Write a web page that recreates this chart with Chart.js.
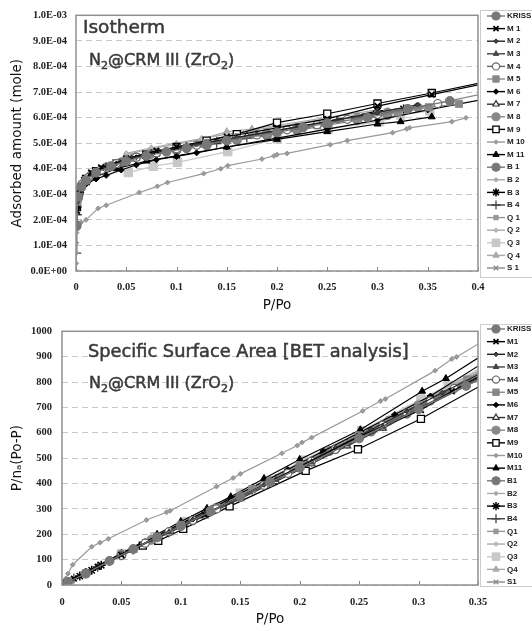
<!DOCTYPE html>
<html>
<head>
<meta charset="utf-8">
<script src="https://cdn.jsdelivr.net/npm/chart.js@4/dist/chart.umd.min.js"></script>
<style>
body { margin: 0; background: #fff; }
.grafico { position: absolute; left: 0; }
</style>
</head>
<body>
<div class="grafico" style="top:0"><canvas id="GraficoIsoterma" width="532" height="315"></canvas></div>
<div class="grafico" style="top:315px"><canvas id="GraficoBet" width="532" height="316"></canvas></div>
<script>
// nomes das series (legendas)
var nomesIsoterma = ['KRISS', 'M 1', 'M 2', 'M 3', 'M 4', 'M 5', 'M 6', 'M 7', 'M 8', 'M 9', 'M 10', 'M 11', 'B 1', 'B 2', 'B 3', 'B 4', 'Q 1', 'Q 2', 'Q 3', 'Q 4', 'S 1'];
var nomesBet = ['KRISS', 'M1', 'M2', 'M3', 'M4', 'M5', 'M6', 'M7', 'M8', 'M9', 'M10', 'M11', 'B1', 'B2', 'B3', 'B4', 'Q1', 'Q2', 'Q3', 'Q4', 'S1'];

// isoterma: [P/Po, quantidade adsorvida (mole)]
var isoKRISS = [[.0005,1.8e-4],[.002,2.9e-4],[.005,3.3e-4],[.01,3.55e-4],[.02,3.85e-4],[.035,4.1e-4],[.05,4.3e-4],[.07,4.5e-4],[.09,4.66e-4],[.11,4.8e-4],[.13,4.95e-4],[.15,5.1e-4],[.2,5.42e-4],[.226,5.62e-4],[.25,5.78e-4],[.29,6.0e-4],[.33,6.33e-4],[.372,6.65e-4]];
var isoM1 = [[.001,2.35e-4],[.003,3.0e-4],[.008,3.55e-4],[.015,3.85e-4],[.025,4.05e-4],[.035,4.15e-4],[.05,4.4e-4],[.08,4.7e-4],[.1,4.85e-4],[.15,5.25e-4],[.2,5.6e-4],[.25,5.95e-4],[.3,6.45e-4],[.354,6.9e-4],[.45,7.7e-4]];
var isoM2 = [[.001,2.7e-4],[.004,3.2e-4],[.01,3.6e-4],[.02,3.9e-4],[.04,4.2e-4],[.06,4.45e-4],[.09,4.72e-4],[.12,4.95e-4],[.16,5.22e-4],[.2,5.5e-4],[.25,5.85e-4],[.3,6.2e-4],[.34,6.5e-4]];
var isoM3 = [[.001,2.8e-4],[.003,3.15e-4],[.008,3.5e-4],[.015,3.8e-4],[.03,4.1e-4],[.05,4.35e-4],[.075,4.62e-4],[.1,4.82e-4],[.14,5.1e-4],[.18,5.35e-4],[.22,5.62e-4],[.26,5.9e-4],[.3,6.18e-4]];
var isoM4 = [[.002,3.0e-4],[.006,3.4e-4],[.012,3.65e-4],[.025,3.95e-4],[.04,4.2e-4],[.06,4.45e-4],[.08,4.62e-4],[.1,4.78e-4],[.12,4.92e-4],[.15,5.12e-4],[.18,5.32e-4],[.21,5.52e-4],[.24,5.72e-4],[.27,5.93e-4],[.3,6.13e-4],[.33,6.35e-4],[.36,6.55e-4]];
var isoM5 = [[.001,2.7e-4],[.005,3.3e-4],[.01,3.55e-4],[.02,3.85e-4],[.04,4.2e-4],[.06,4.45e-4],[.08,4.62e-4],[.1,4.8e-4],[.13,5.0e-4],[.16,5.2e-4],[.2,5.45e-4],[.24,5.7e-4],[.28,5.95e-4],[.32,6.2e-4],[.351,6.4e-4],[.381,6.54e-4]];
var isoM6 = [[.001,2.5e-4],[.003,3.0e-4],[.006,3.25e-4],[.01,3.4e-4],[.02,3.6e-4],[.03,3.74e-4],[.045,3.95e-4],[.06,4.15e-4],[.08,4.35e-4],[.1,4.48e-4],[.12,4.62e-4],[.15,4.85e-4],[.2,5.2e-4],[.25,5.55e-4],[.3,5.9e-4],[.35,6.3e-4],[.45,7.05e-4]];
var isoM7 = [[.001,2.6e-4],[.004,3.15e-4],[.01,3.5e-4],[.02,3.82e-4],[.035,4.08e-4],[.055,4.38e-4],[.08,4.62e-4],[.11,4.85e-4],[.14,5.06e-4],[.17,5.28e-4],[.2,5.48e-4],[.25,5.82e-4],[.3,6.2e-4]];
var isoM8 = [[.001,2.75e-4],[.003,3.1e-4],[.007,3.4e-4],[.015,3.75e-4],[.03,4.05e-4],[.05,4.35e-4],[.075,4.58e-4],[.1,4.78e-4],[.13,4.98e-4],[.16,5.2e-4],[.19,5.4e-4],[.22,5.6e-4],[.25,5.8e-4],[.28,6.0e-4],[.31,6.2e-4],[.34,6.4e-4],[.45,7.3e-4]];
var isoM9 = [[.001,2.5e-4],[.003,3.05e-4],[.01,3.6e-4],[.02,3.9e-4],[.04,4.2e-4],[.07,4.55e-4],[.1,4.85e-4],[.13,5.1e-4],[.16,5.35e-4],[.2,5.8e-4],[.25,6.15e-4],[.3,6.55e-4],[.354,6.96e-4],[.45,7.75e-4]];
var isoM10 = [[0,0],[.0002,.3e-4],[.0003,.7e-4],[.0004,1.1e-4],[.0005,1.5e-4],[.001,1.75e-4],[.005,1.9e-4],[.01,2.0e-4],[.022,2.45e-4],[.03,2.57e-4],[.063,3.07e-4],[.081,3.31e-4],[.091,3.46e-4],[.127,3.81e-4],[.144,4.0e-4],[.151,4.12e-4],[.185,4.38e-4],[.197,4.5e-4],[.2,4.55e-4],[.21,4.6e-4],[.253,4.94e-4],[.27,5.1e-4],[.315,5.41e-4],[.329,5.56e-4],[.332,5.6e-4],[.374,5.84e-4],[.388,5.99e-4]];
var isoM11 = [[.001,2.6e-4],[.004,3.1e-4],[.01,3.45e-4],[.02,3.7e-4],[.04,4.0e-4],[.07,4.3e-4],[.1,4.5e-4],[.15,4.85e-4],[.2,5.15e-4],[.25,5.45e-4],[.3,5.75e-4],[.323,5.84e-4],[.354,6.03e-4]];
var isoB1 = [[.0005,1.75e-4],[.002,2.85e-4],[.005,3.25e-4],[.012,3.6e-4],[.025,3.95e-4],[.045,4.25e-4],[.07,4.5e-4],[.1,4.72e-4],[.13,4.92e-4],[.16,5.12e-4],[.19,5.3e-4],[.22,5.5e-4],[.25,5.7e-4],[.28,5.9e-4],[.31,6.1e-4]];
var isoB2 = [[.001,2.65e-4],[.004,3.2e-4],[.01,3.55e-4],[.02,3.88e-4],[.04,4.22e-4],[.065,4.5e-4],[.09,4.72e-4],[.12,4.95e-4],[.15,5.15e-4],[.18,5.35e-4],[.21,5.55e-4],[.24,5.75e-4],[.27,5.95e-4],[.3,6.15e-4],[.33,6.35e-4]];
var isoB3 = [[.001,2.5e-4],[.003,3.0e-4],[.01,3.5e-4],[.02,3.85e-4],[.032,4.05e-4],[.05,4.3e-4],[.08,4.6e-4],[.11,4.82e-4],[.15,5.1e-4],[.2,5.45e-4],[.25,5.85e-4],[.3,6.25e-4],[.326,6.34e-4]];
var isoB4 = [[.0003,.7e-4],[.0008,2.2e-4],[.002,2.9e-4],[.006,3.35e-4],[.015,3.75e-4],[.03,4.05e-4],[.05,4.32e-4],[.08,4.6e-4],[.11,4.82e-4],[.14,5.02e-4],[.17,5.22e-4],[.2,5.42e-4],[.25,5.76e-4],[.3,6.1e-4]];
var isoQ1 = [[.001,2.7e-4],[.005,3.3e-4],[.01,3.55e-4],[.02,3.85e-4],[.04,4.18e-4],[.06,4.42e-4],[.08,4.6e-4],[.1,4.75e-4],[.125,4.93e-4],[.15,5.1e-4],[.175,5.28e-4],[.2,5.45e-4],[.25,5.78e-4],[.3,6.12e-4]];
var isoQ2 = [[.05,4.6e-4],[.075,4.82e-4],[.1,5.0e-4],[.125,5.18e-4],[.15,5.35e-4],[.175,5.5e-4],[.2,5.65e-4],[.25,5.95e-4]];
var isoQ3 = [[.052,3.85e-4],[.077,4.1e-4],[.101,4.25e-4],[.151,4.67e-4],[.2,5.17e-4],[.251,5.56e-4],[.302,5.84e-4],[.323,6.1e-4],[.352,6.26e-4]];
var isoQ4 = [[.05,4.55e-4],[.075,4.78e-4],[.1,4.95e-4],[.125,5.15e-4],[.15,5.45e-4],[.175,5.55e-4],[.2,5.7e-4],[.25,6.0e-4],[.3,6.3e-4]];
var isoS1 = [[.001,2.6e-4],[.004,3.15e-4],[.01,3.5e-4],[.02,3.82e-4],[.04,4.15e-4],[.07,4.48e-4],[.1,4.72e-4],[.13,4.92e-4],[.16,5.12e-4],[.2,5.4e-4],[.25,5.75e-4],[.3,6.1e-4],[.35,6.45e-4]];

// BET: [P/Po, P/na(Po-P)]
var betKRISS = [[.005,12],[.02,45],[.04,95],[.06,142],[.08,188],[.1,232],[.125,290],[.15,348],[.175,405],[.2,462],[.25,578],[.3,693],[.34,785],[.4,925]];
var betM1 = [[.003,8],[.01,25],[.03,72],[.05,118],[.08,188],[.1,232],[.12,278],[.15,348],[.2,465],[.25,585],[.302,690],[.328,764],[.4,945]];
var betM2 = [[.005,14],[.02,48],[.05,120],[.08,190],[.11,258],[.14,325],[.17,395],[.2,468],[.23,540],[.26,612],[.29,685],[.32,758],[.4,945]];
var betM3 = [[.005,12],[.03,72],[.06,140],[.09,208],[.12,276],[.15,345],[.18,415],[.21,485],[.24,555],[.27,625],[.3,697],[.4,930]];
var betM4 = [[.05,117],[.07,165],[.09,210],[.11,255],[.13,300],[.15,347],[.17,393],[.19,440],[.21,488],[.23,535],[.25,583],[.27,630],[.29,678],[.31,726],[.33,775],[.4,940]];
var betM5 = [[.005,13],[.02,46],[.05,118],[.08,190],[.1,236],[.13,305],[.16,378],[.2,472],[.25,590],[.3,708],[.341,810],[.4,955]];
var betM6 = [[.005,13],[.02,48],[.04,98],[.07,170],[.1,242],[.13,312],[.16,385],[.19,455],[.22,528],[.25,600],[.28,672],[.31,745],[.4,1010]];
var betM7 = [[.005,12],[.03,70],[.06,138],[.09,206],[.12,272],[.15,340],[.18,408],[.21,478],[.24,548],[.27,618],[.3,690],[.4,925]];
var betM8 = [[.05,120],[.075,178],[.1,235],[.125,292],[.15,350],[.175,408],[.2,468],[.225,528],[.25,588],[.275,648],[.3,708],[.4,955]];
var betM9 = [[.068,155],[.081,174],[.102,221],[.141,310],[.205,450],[.249,535],[.302,655],[.4,910]];
var betM10 = [[.001,8],[.003,25],[.005,45],[.009,80],[.025,151],[.032,167],[.039,182],[.071,256],[.088,287],[.091,293],[.13,388],[.144,422],[.15,438],[.185,519],[.198,550],[.202,562],[.21,581],[.253,686],[.268,725],[.272,733],[.314,845],[.328,891],[.332,899],[.4,1090]];
var betM11 = [[.005,14],[.02,50],[.05,125],[.08,200],[.1,250],[.122,302],[.142,348],[.17,420],[.2,495],[.251,612],[.303,764],[.323,814],[.4,1045]];
var betB1 = [[.005,12],[.02,46],[.05,117],[.08,186],[.11,255],[.14,325],[.17,395],[.2,465],[.23,535],[.26,605],[.29,675],[.4,935]];
var betB2 = [[.005,13],[.03,72],[.06,142],[.09,212],[.12,282],[.15,352],[.18,422],[.21,492],[.24,562],[.27,632],[.3,703],[.4,940]];
var betB3 = [[.004,10],[.015,35],[.025,58],[.033,78],[.04,95],[.07,166],[.1,236],[.13,305],[.16,375],[.19,446],[.22,518],[.25,590],[.28,662],[.31,735],[.4,955]];
var betB4 = [[.003,8],[.01,26],[.03,72],[.06,140],[.09,208],[.12,278],[.15,347],[.18,417],[.21,487],[.24,557],[.27,627],[.3,698],[.4,930]];
var betQ1 = [[.05,120],[.075,178],[.1,237],[.125,296],[.15,355],[.175,414],[.2,473],[.25,592],[.3,712],[.4,950]];
var betQ2 = [[.05,122],[.075,181],[.1,240],[.125,300],[.15,360],[.175,420],[.2,480],[.25,600],[.3,722],[.4,965]];
var betQ3 = [[.05,124],[.078,190],[.103,250],[.15,362],[.203,492],[.252,608],[.302,733],[.325,787],[.4,975]];
var betQ4 = [[.05,121],[.075,180],[.1,238],[.125,298],[.15,357],[.175,417],[.2,477],[.25,597],[.3,718],[.4,960]];
var betS1 = [[.005,12],[.03,70],[.06,140],[.09,208],[.12,276],[.15,345],[.18,414],[.21,484],[.24,554],[.27,624],[.3,694],[.4,925]];

var seriesIsoterma = [isoKRISS, isoM1, isoM2, isoM3, isoM4, isoM5, isoM6, isoM7, isoM8, isoM9, isoM10, isoM11, isoB1, isoB2, isoB3, isoB4, isoQ1, isoQ2, isoQ3, isoQ4, isoS1];
var seriesBet = [betKRISS, betM1, betM2, betM3, betM4, betM5, betM6, betM7, betM8, betM9, betM10, betM11, betB1, betB2, betB3, betB4, betQ1, betQ2, betQ3, betQ4, betS1];

// estilo de cada serie (mesma ordem dos nomes)
var coresLinha = ['#777', '#000', '#222', '#444', '#666', '#888', '#000', '#333', '#888', '#000', '#9a9a9a', '#000', '#777', '#aaa', '#000', '#444', '#999', '#aaa', '#c8c8c8', '#aaa', '#888'];
var estilosPonto = ['circle', 'crossRot', 'rectRot', 'triangle', 'circle', 'rect', 'rectRot', 'triangle', 'circle', 'rect', 'rectRot', 'triangle', 'circle', 'rectRot', 'star', 'cross', 'rect', 'rectRot', 'rect', 'triangle', 'crossRot'];
var tamanhosPonto = [4.5, 4, 2.5, 3.5, 4, 5, 3, 4, 4.5, 5, 2.5, 4, 4.5, 2.5, 4.5, 5, 3.5, 2.5, 6, 4, 3.5];
var preenchimentos = ['#777', '#000', '#444', '#444', '#fff', '#888', '#000', '#fff', '#888', '#fff', '#9a9a9a', '#000', '#777', '#aaa', '#000', '#444', '#999', '#bbb', '#c8c8c8', '#aaa', '#888'];
var bordasPonto = [1, 1.8, 1, 1, 1.2, 1, 1, 1.2, 1, 1.3, 1, 1, 1, 1, 1.5, 1.3, 1, 1, 1, 1, 1.3];

var familiaTexto = '"DejaVu Sans", sans-serif';
var fonteTicks = { family: '"Liberation Serif", serif', size: 10.5, weight: 'bold' };
var fonteTitulo = { family: familiaTexto, size: 13.5 };

function MontarDatasets(series, nomes) {
    var datasets = [];
    var indice = 0;

    while (indice < series.length) {
        datasets.push({
            label: nomes[indice],
            data: series[indice],
            showLine: true,
            borderColor: coresLinha[indice],
            borderWidth: 1.2,
            pointStyle: estilosPonto[indice],
            pointRadius: tamanhosPonto[indice],
            pointHoverRadius: tamanhosPonto[indice],
            pointBackgroundColor: preenchimentos[indice],
            pointBorderColor: coresLinha[indice],
            pointBorderWidth: bordasPonto[indice],
            tension: 0
        });
        indice++;
    }
    return datasets;
}

function FormatarExp(v) {
    if (Math.abs(v) < 1e-12) return '0.0E+00';
    var e = Math.floor(Math.log10(Math.abs(v)) + 1e-6);
    var m = v / Math.pow(10, e);
    var a = Math.abs(e);
    return m.toFixed(1) + 'E' + (e < 0 ? '-' : '+') + (a < 10 ? '0' + a : a);
}

function FormatarX(v) {
    return String(parseFloat(v.toFixed(2)));
}

// texto com traco leve por cima para ficar meio-negrito
function EscreverGrosso(ctx, texto, x, y) {
    ctx.fillText(texto, x, y);
    ctx.strokeText(texto, x, y);
}

function EscreverFormula(ctx, x, y, tamanho) {
    var partes = [['N', 0], ['2', 1], ['@CRM III (ZrO', 0], ['2', 1], [')', 0]];
    var i = 0;
    while (i < partes.length) {
        var sub = partes[i][1] === 1;
        ctx.font = (sub ? tamanho * 0.7 : tamanho) + 'px ' + familiaTexto;
        EscreverGrosso(ctx, partes[i][0], x, y + (sub ? tamanho * 0.25 : 0));
        x += ctx.measureText(partes[i][0]).width;
        i++;
    }
}

// moldura, titulos internos e legenda desenhados depois do grafico
var pluginMoldura = {
    id: 'moldura',
    afterDraw: function (chart, args, opts) {
        var ctx = chart.ctx;
        var area = chart.chartArea;
        var sx = chart.scales.x;
        ctx.save();

        ctx.strokeStyle = '#888';
        ctx.lineWidth = 1;
        sx.ticks.forEach(function (t) {
            var px = Math.round(sx.getPixelForValue(t.value)) + 0.5;
            ctx.beginPath();
            ctx.moveTo(px, area.bottom);
            ctx.lineTo(px, area.bottom - 4);
            ctx.stroke();
        });

        ctx.strokeStyle = '#909090';
        ctx.lineWidth = 1.5;
        ctx.strokeRect(area.left, area.top, area.right - area.left, area.bottom - area.top);

        ctx.fillStyle = '#3a3a3a';
        ctx.strokeStyle = '#3a3a3a';
        ctx.lineWidth = 0.5;
        ctx.textBaseline = 'alphabetic';
        ctx.textAlign = 'left';
        ctx.font = opts.tamanhoTitulo + 'px ' + familiaTexto;
        EscreverGrosso(ctx, opts.titulo, opts.tituloX, opts.tituloY);
        EscreverFormula(ctx, opts.formulaX, opts.formulaY, opts.tamanhoFormula);

        var lg = opts.legenda;
        ctx.fillStyle = '#fff';
        ctx.fillRect(lg.x, lg.topo, 60, lg.base - lg.topo);
        ctx.strokeStyle = '#ccc';
        ctx.lineWidth = 1;
        ctx.strokeRect(lg.x + 0.5, lg.topo + 0.5, 60, lg.base - lg.topo);

        chart.data.datasets.forEach(function (ds, i) {
            var y = lg.primeiro + i * lg.passo;
            ctx.strokeStyle = ds.borderColor;
            ctx.lineWidth = 1.4;
            ctx.beginPath();
            ctx.moveTo(lg.x + 7, y);
            ctx.lineTo(lg.x + 25, y);
            ctx.stroke();
            ctx.fillStyle = ds.pointBackgroundColor;
            ctx.strokeStyle = ds.pointBorderColor;
            ctx.lineWidth = ds.pointBorderWidth;
            if (Chart.helpers && Chart.helpers.drawPoint) {
                Chart.helpers.drawPoint(ctx, { pointStyle: ds.pointStyle, radius: ds.pointRadius * 0.9, rotation: 0, borderWidth: ds.pointBorderWidth }, lg.x + 16, y);
            }
            ctx.fillStyle = '#222';
            ctx.font = 'bold 8px "Liberation Sans", sans-serif';
            ctx.textBaseline = 'middle';
            ctx.fillText(ds.label, lg.x + 27, y);
        });
        ctx.restore();
    }
};

function MontarEscalas(xMax, yMax, yPasso, yFormato, larguraY, alturaX, padTicksX, padTicksY, tituloX, tituloY, padTituloX, padTituloY) {
    return {
        x: {
            type: 'linear', min: 0, max: xMax,
            ticks: { stepSize: 0.05, padding: padTicksX, font: fonteTicks, color: '#222', callback: FormatarX, maxRotation: 0, autoSkip: false },
            grid: { display: false, drawTicks: false },
            border: { display: false },
            title: { display: true, text: tituloX, font: fonteTitulo, color: '#111', padding: { top: 0, bottom: padTituloX } },
            afterFit: function (s) { s.height = alturaX; }
        },
        y: {
            type: 'linear', min: 0, max: yMax,
            ticks: { stepSize: yPasso, padding: padTicksY, font: fonteTicks, color: '#222', callback: yFormato, autoSkip: false },
            grid: { color: '#c8c8c8', lineWidth: 1, drawTicks: false },
            border: { display: false, dash: [6, 4] },
            title: { display: true, text: tituloY, font: fonteTitulo, color: '#111', padding: { top: padTituloY, bottom: 0 } },
            afterFit: function (s) { s.width = larguraY; }
        }
    };
}

new Chart(document.getElementById('GraficoIsoterma'), {
    type: 'scatter',
    data: { datasets: MontarDatasets(seriesIsoterma, nomesIsoterma) },
    options: {
        responsive: false,
        animation: false,
        layout: { padding: { top: 13, right: 54, left: 0, bottom: 0 } },
        plugins: {
            legend: { display: false },
            tooltip: { enabled: false },
            moldura: {
                titulo: 'Isotherm', tamanhoTitulo: 18.5, tituloX: 83, tituloY: 33,
                formulaX: 89, formulaY: 65, tamanhoFormula: 16,
                legenda: { x: 480, topo: 10, base: 277, primeiro: 16, passo: 12.6 }
            }
        },
        scales: MontarEscalas(0.4, 0.001, 0.0001, FormatarExp, 76, 44, 10, 9, 'P/Po', 'Adsorbed amount (mole)', 1.6, 9.5)
    },
    plugins: [pluginMoldura]
});

new Chart(document.getElementById('GraficoBet'), {
    type: 'scatter',
    data: { datasets: MontarDatasets(seriesBet, nomesBet) },
    options: {
        responsive: false,
        animation: false,
        layout: { padding: { top: 12, right: 54, left: 0, bottom: 0 } },
        plugins: {
            legend: { display: false },
            tooltip: { enabled: false },
            moldura: {
                titulo: 'Specific Surface Area [BET analysis]', tamanhoTitulo: 17.8, tituloX: 88, tituloY: 42,
                formulaX: 89, formulaY: 73, tamanhoFormula: 16,
                legenda: { x: 480, topo: 9, base: 271, primeiro: 14, passo: 12.65 }
            }
        },
        scales: MontarEscalas(0.35, 1000, 100, function (v) { return String(v); }, 62, 46, 11, 10, 'P/Po', 'P/n\u2090(Po-P)', 3.6, 9)
    },
    plugins: [pluginMoldura]
});
</script>
</body>
</html>
